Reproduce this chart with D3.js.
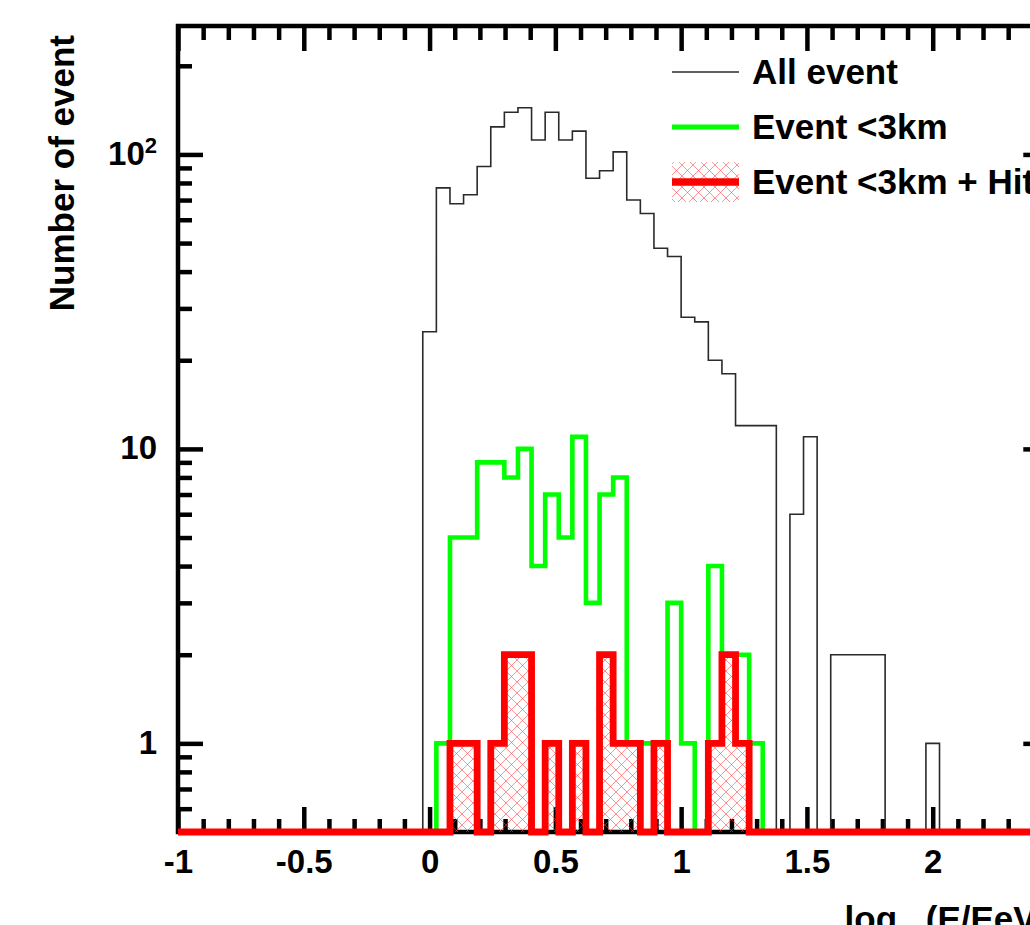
<!DOCTYPE html>
<html>
<head>
<meta charset="utf-8">
<script src="https://cdn.jsdelivr.net/npm/d3@7"></script>
<style>
  html, body { margin: 0; padding: 0; background: #fff; overflow: hidden; }
  svg { display: block; font-family: "Liberation Sans", Arial, Helvetica, sans-serif; font-weight: bold; }
</style>
</head>
<body>
<svg id="chart" width="1030" height="925"></svg>
<script>
// Binning of the energy histograms: 74 equal bins over [-1, 3] in log10(E/EeV);
// the displayed x range covers the first 64 bins.
const binLow = -1, binHigh = 3, nBins = 74, shownBins = 64;

// Counts per bin (bin 0 starts at log10(E/EeV) = -1)
const allEvents = [
  0, 0, 0, 0, 0, 0, 0, 0, 0, 0, 0, 0, 0, 0, 0, 0, 0, 0,
  25, 77, 68, 73, 91, 124, 139, 144, 112, 139, 112, 120, 83, 88, 102, 70,
  63, 48, 45, 28, 27, 20, 18, 12, 12, 12, 0, 6, 11, 0, 2, 2, 2, 2,
  0, 0, 0, 1, 0, 0, 0, 0, 0, 0, 0, 0
];
const eventsBelow3km = [
  0, 0, 0, 0, 0, 0, 0, 0, 0, 0, 0, 0, 0, 0, 0, 0, 0, 0, 0,
  1, 5, 5, 9, 9, 8, 10, 4, 7, 5, 11, 3, 7, 8, 1, 1, 1, 3, 1, 0, 4, 2, 2, 1,
  0, 0, 0, 0, 0, 0, 0, 0, 0, 0, 0, 0, 0, 0, 0, 0, 0, 0, 0, 0, 0
];
const eventsBelow3kmHit = [
  0, 0, 0, 0, 0, 0, 0, 0, 0, 0, 0, 0, 0, 0, 0, 0, 0, 0, 0, 0,
  1, 1, 0, 1, 2, 2, 0, 1, 0, 1, 0, 2, 1, 1, 0, 1, 0, 0, 0, 1, 2, 1,
  0, 0, 0, 0, 0, 0, 0, 0, 0, 0, 0, 0, 0, 0, 0, 0, 0, 0, 0, 0, 0, 0
];

const xTickValues = [-1, -0.5, 0, 0.5, 1, 1.5, 2];
const yTickValues = [1, 10, 100];
const legendLabels = ["All event", "Event <3km", "Event <3km + Hit"];
const xTitle = { main: "log", sub: "10", rest: "(E/EeV)" };
const yTitle = "Number of event";

const yMin = 0.5, yMax = 273;

// ---- layout ----
const frame = { left: 178, top: 26, right: 1048.3, bottom: 832 };
const binW = (binHigh - binLow) / nBins;
const edge = i => binLow + i * binW;

const svg = d3.select("#chart");

const x = d3.scaleLinear()
  .domain([binLow, edge(shownBins)])
  .range([frame.left, frame.right]);
const y = d3.scaleLog()
  .domain([yMin, yMax])
  .range([frame.bottom, frame.top]);

const defs = svg.append("defs");
defs.append("clipPath").attr("id", "plotClip")
  .append("rect")
  .attr("x", frame.left).attr("y", frame.top)
  .attr("width", frame.right - frame.left)
  .attr("height", frame.bottom - frame.top + 6);

// cross-hatch used by the "+ Hit" histogram
const hatch = defs.append("pattern")
  .attr("id", "crossHatch")
  .attr("patternUnits", "userSpaceOnUse")
  .attr("width", 11).attr("height", 11);
hatch.append("path")
  .attr("d", "M0,0 L11,11 M11,0 L0,11")
  .attr("stroke", "#ff3b3b")
  .attr("stroke-opacity", 0.55)
  .attr("stroke-width", 1)
  .attr("fill", "none");

// ---- axes (ticks drawn inside the frame) ----
const tickW = 4.5;
const minorX = d3.range(-10, 25).map(k => k / 10)
  .filter(v => !xTickValues.some(t => Math.abs(t - v) < 1e-9));
const minorY = [];
[0.1, 1, 10, 100].forEach(dec => {
  for (let m = 2; m <= 9; m++) {
    const v = m * dec;
    if (v >= yMin && v <= yMax && !yTickValues.includes(v)) minorY.push(v);
  }
});

function styleTicks(g) {
  g.select(".domain").remove();
  g.selectAll(".tick line").attr("stroke", "#000").attr("stroke-width", tickW);
}

// bottom
svg.append("g").attr("transform", `translate(0,${frame.bottom})`)
  .call(d3.axisBottom(x).tickValues(minorX).tickSize(-13).tickFormat(""))
  .call(styleTicks);
const gxb = svg.append("g").attr("transform", `translate(0,${frame.bottom})`)
  .call(d3.axisBottom(x).tickValues(xTickValues).tickSize(-25).tickFormat(d => String(d)))
  .call(styleTicks);
gxb.selectAll(".tick text")
  .attr("y", 41).attr("dy", 0)
  .attr("font-size", 33).attr("font-weight", "bold")
  .attr("font-family", "Liberation Sans, Arial, sans-serif")
  .attr("fill", "#000");

// top
svg.append("g").attr("transform", `translate(0,${frame.top})`)
  .call(d3.axisTop(x).tickValues(minorX).tickSize(-14).tickFormat(""))
  .call(styleTicks);
svg.append("g").attr("transform", `translate(0,${frame.top})`)
  .call(d3.axisTop(x).tickValues(xTickValues).tickSize(-25).tickFormat(""))
  .call(styleTicks);

// left
svg.append("g").attr("transform", `translate(${frame.left},0)`)
  .call(d3.axisLeft(y).tickValues(minorY).tickSize(-14).tickFormat(""))
  .call(styleTicks);
const gyl = svg.append("g").attr("transform", `translate(${frame.left},0)`)
  .call(d3.axisLeft(y).tickValues(yTickValues).tickSize(-25).tickPadding(20).tickFormat(d => String(d)))
  .call(styleTicks);
gyl.selectAll(".tick text")
  .attr("x", -21).attr("dy", "0.3em")
  .attr("font-size", 33).attr("font-weight", "bold")
  .attr("font-family", "Liberation Sans, Arial, sans-serif")
  .attr("fill", "#000")
  .each(function (d) {
    if (d >= 100) {
      const exp = Math.round(Math.log10(d));
      const t = d3.select(this).text("");
      t.append("tspan").text("10");
      t.append("tspan").attr("font-size", 22).attr("dy", "-0.55em").text(exp);
    }
  });

// right
svg.append("g").attr("transform", `translate(${frame.right},0)`)
  .call(d3.axisRight(y).tickValues(minorY).tickSize(-14).tickFormat(""))
  .call(styleTicks);
svg.append("g").attr("transform", `translate(${frame.right},0)`)
  .call(d3.axisRight(y).tickValues(yTickValues).tickSize(-25).tickFormat(""))
  .call(styleTicks);

// frame
svg.append("rect")
  .attr("x", frame.left).attr("y", frame.top)
  .attr("width", frame.right - frame.left)
  .attr("height", frame.bottom - frame.top)
  .attr("fill", "none").attr("stroke", "#000").attr("stroke-width", 4.5);

// ---- histograms ----
const yOf = c => (c > 0 ? y(c) : y(yMin));
function stepPoints(counts) {
  const pts = [];
  counts.slice(0, shownBins).forEach((c, i) => {
    pts.push([x(edge(i)), yOf(c)], [x(edge(i + 1)), yOf(c)]);
  });
  return pts;
}
const line = d3.line();
const area = d3.area().x(p => p[0]).y0(y(yMin)).y1(p => p[1]);

const plot = svg.append("g").attr("clip-path", "url(#plotClip)");

plot.append("path")
  .attr("d", line(stepPoints(allEvents)))
  .attr("fill", "none").attr("stroke", "#2a2a2a").attr("stroke-width", 1.6);

plot.append("path")
  .attr("d", line(stepPoints(eventsBelow3km)))
  .attr("fill", "none").attr("stroke", "#00ff00").attr("stroke-width", 4.6);

const hitPts = stepPoints(eventsBelow3kmHit);
plot.append("path")
  .attr("d", area(hitPts))
  .attr("fill", "url(#crossHatch)");
plot.append("path")
  .attr("d", line(hitPts))
  .attr("fill", "none").attr("stroke", "#ff0000").attr("stroke-width", 6.8);

// ---- legend ----
const leg = svg.append("g");
const legX0 = 672, legX1 = 739, legTextX = 752;
const legRows = [
  { y: 72, text: legendLabels[0] },
  { y: 127, text: legendLabels[1] },
  { y: 182, text: legendLabels[2] }
];
leg.append("line")
  .attr("x1", legX0).attr("x2", legX1).attr("y1", legRows[0].y).attr("y2", legRows[0].y)
  .attr("stroke", "#2a2a2a").attr("stroke-width", 1.6);
leg.append("line")
  .attr("x1", legX0).attr("x2", legX1).attr("y1", legRows[1].y).attr("y2", legRows[1].y)
  .attr("stroke", "#00ff00").attr("stroke-width", 5);
leg.append("rect")
  .attr("x", legX0).attr("y", legRows[2].y - 20)
  .attr("width", legX1 - legX0).attr("height", 40)
  .attr("fill", "url(#crossHatch)");
leg.append("line")
  .attr("x1", legX0).attr("x2", legX1).attr("y1", legRows[2].y).attr("y2", legRows[2].y)
  .attr("stroke", "#ff0000").attr("stroke-width", 7.5);
leg.selectAll("text.leg").data(legRows).join("text")
  .attr("class", "leg")
  .attr("x", legTextX).attr("y", d => d.y + 12)
  .attr("font-size", 35).attr("fill", "#000")
  .text(d => d.text);

// ---- axis titles ----
svg.append("text")
  .attr("transform", `translate(74,35) rotate(-90)`)
  .attr("text-anchor", "end")
  .attr("font-size", 35).attr("fill", "#000")
  .text(yTitle);

const xt = svg.append("text")
  .attr("x", frame.right).attr("y", 931)
  .attr("text-anchor", "end")
  .attr("font-size", 35).attr("fill", "#000");
xt.append("tspan").text(xTitle.main);
xt.append("tspan").attr("font-size", 24).attr("dy", 13).text(xTitle.sub);
xt.append("tspan").attr("dy", -13).attr("dx", 2).text(xTitle.rest);
</script>
</body>
</html>
